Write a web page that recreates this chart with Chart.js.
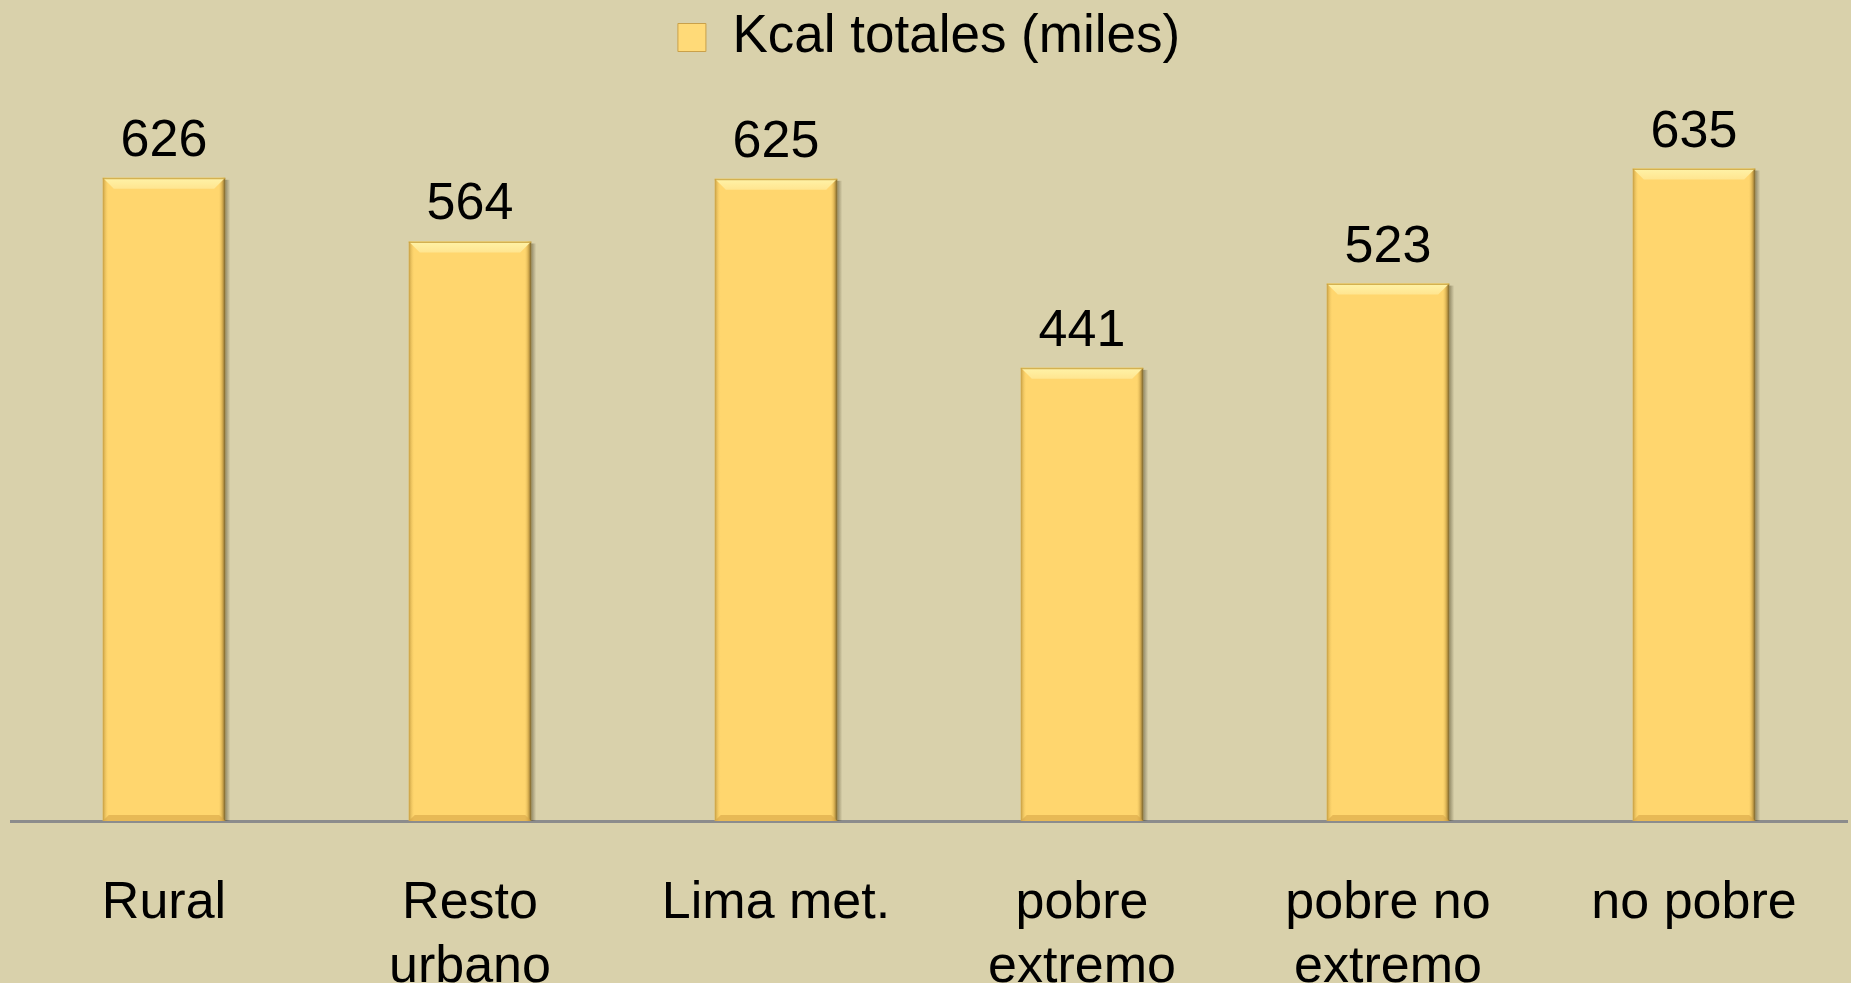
<!DOCTYPE html>
<html>
<head>
<meta charset="utf-8">
<script src="https://cdn.jsdelivr.net/npm/chart.js@4/dist/chart.umd.min.js"></script>
<style>
  html, body { margin: 0; padding: 0; background: #D9D1AB; overflow: hidden; }
  #wrap { width: 1851px; height: 983px; position: relative; }
</style>
</head>
<body>
<div id="wrap"><canvas id="c"></canvas></div>
<script>
// ---- data ----
const categories = [['Rural'], ['Resto', 'urbano'], ['Lima met.'], ['pobre', 'extremo'], ['pobre no', 'extremo'], ['no pobre']];
const seriesName = 'Kcal totales (miles)';
const kcalValues = [626, 564, 625, 441, 523, 635];
const yMin = 0;
const yMax = 727;

// ---- styling ----
const BG = '#D9D1AB';
const BAR = '#FFD66E';
const FONT = '"Liberation Sans", Arial, Helvetica, sans-serif';

Chart.defaults.color = '#000';
Chart.defaults.font.family = FONT;

const bgPlugin = {
  id: 'bg',
  beforeDraw(chart) {
    const ctx = chart.ctx;
    ctx.save();
    ctx.fillStyle = BG;
    ctx.fillRect(0, 0, chart.width, chart.height);
    ctx.restore();
  }
};

// bevel look + value labels, positioned from the library's bar elements
const bevelLabels = {
  id: 'bevelLabels',
  afterDatasetsDraw(chart) {
    const ctx = chart.ctx;
    const meta = chart.getDatasetMeta(0);
    const data = chart.data.datasets[0].data;
    meta.data.forEach((bar, i) => {
      const p = bar.getProps(['x', 'y', 'width', 'base'], true);
      const L = p.x - p.width / 2, R = p.x + p.width / 2, T = p.y, B = p.base;
      const b = 11;
      ctx.save();
      // right outer shadow
      let g = ctx.createLinearGradient(R, 0, R + 5, 0);
      g.addColorStop(0, 'rgba(60,50,20,0.45)');
      g.addColorStop(1, 'rgba(60,50,20,0)');
      ctx.fillStyle = g;
      ctx.fillRect(R, T + 2, 5, B - T - 2);
      // left edge
      g = ctx.createLinearGradient(L, 0, L + 6, 0);
      g.addColorStop(0, 'rgba(190,150,60,0.9)');
      g.addColorStop(1, 'rgba(255,214,110,0)');
      ctx.fillStyle = g;
      ctx.fillRect(L, T, 6, B - T);
      // right edge
      g = ctx.createLinearGradient(R - 7, 0, R, 0);
      g.addColorStop(0, 'rgba(255,214,110,0)');
      g.addColorStop(0.6, 'rgba(200,160,70,0.8)');
      g.addColorStop(1, 'rgba(110,90,40,0.95)');
      ctx.fillStyle = g;
      ctx.fillRect(R - 7, T, 7, B - T);
      // top bevel
      g = ctx.createLinearGradient(0, T, 0, T + b);
      g.addColorStop(0, '#FFF3A8');
      g.addColorStop(1, '#FFE590');
      ctx.fillStyle = g;
      ctx.beginPath();
      ctx.moveTo(L, T); ctx.lineTo(R, T); ctx.lineTo(R - b, T + b); ctx.lineTo(L + b, T + b); ctx.closePath();
      ctx.fill();
      ctx.strokeStyle = 'rgba(200,160,60,0.8)';
      ctx.lineWidth = 1.5;
      ctx.beginPath(); ctx.moveTo(L, T + 0.75); ctx.lineTo(R, T + 0.75); ctx.stroke();
      // bottom bevel
      ctx.fillStyle = 'rgba(215,165,70,0.6)';
      ctx.beginPath();
      ctx.moveTo(L, B); ctx.lineTo(R, B); ctx.lineTo(R - 6, B - 6); ctx.lineTo(L + 6, B - 6); ctx.closePath();
      ctx.fill();
      ctx.restore();

      // value label
      ctx.save();
      ctx.fillStyle = '#000';
      ctx.font = '52px ' + FONT;
      ctx.textAlign = 'center';
      ctx.textBaseline = 'alphabetic';
      ctx.fillText(String(data[i]), p.x, T - 22);
      ctx.restore();
    });
  }
};

new Chart(document.getElementById('c'), {
  type: 'bar',
  data: {
    labels: categories,
    datasets: [{
      label: seriesName,
      data: kcalValues,
      backgroundColor: BAR,
      borderWidth: 0,
      categoryPercentage: 1.0,
      barPercentage: 0.40
    }]
  },
  options: {
    responsive: true,
    maintainAspectRatio: false,
    animation: false,
    layout: { padding: { left: 11, right: 4, top: 0, bottom: 0 } },
    plugins: {
      legend: {
        display: true,
        position: 'top',
        labels: {
          boxWidth: 28,
          boxHeight: 28,
          padding: 11,
          color: '#000',
          font: { size: 53, family: FONT },
          generateLabels(chart) {
            return [{
              text: seriesName,
              fillStyle: '#FFDA78',
              strokeStyle: '#C9A04A',
              lineWidth: 1,
              datasetIndex: 0
            }];
          }
        }
      },
      tooltip: { enabled: false },
      title: { display: false }
    },
    scales: {
      x: {
        grid: { display: false, drawTicks: false },
        border: { display: true, color: '#8C8C8C', width: 3 },
        ticks: {
          color: '#000',
          font: { size: 52, family: FONT, lineHeight: 1.22 },
          padding: 51,
          maxRotation: 0,
          minRotation: 0,
          autoSkip: false
        },
        afterFit(scale) { scale.height = 162; }
      },
      y: {
        display: false,
        min: yMin,
        max: yMax,
        grid: { display: false }
      }
    }
  },
  plugins: [bgPlugin, bevelLabels]
});
</script>
</body>
</html>
